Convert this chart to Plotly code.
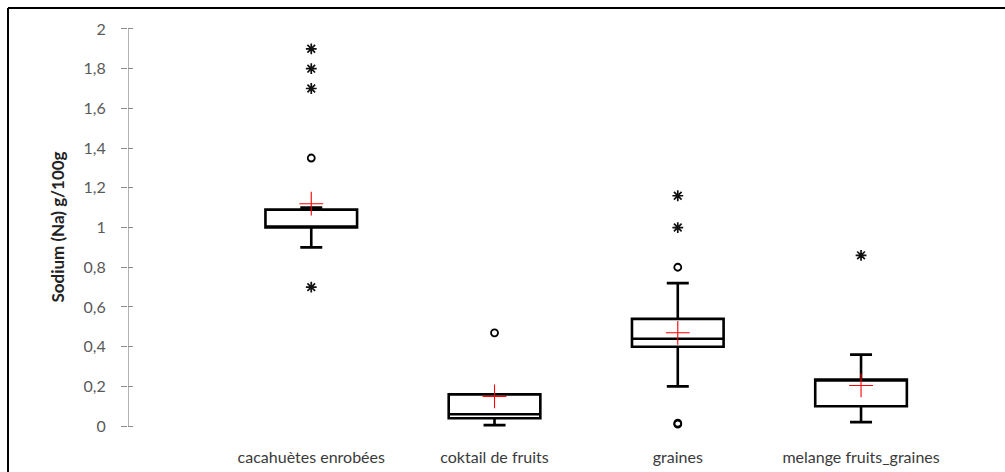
import plotly.graph_objects as go

categories = ["cacahuètes enrobées", "coktail de fruits", "graines", "melange fruits_graines"]
q1 = [1.00, 0.04, 0.40, 0.10]
median = [1.00, 0.06, 0.44, 0.235]
q3 = [1.09, 0.16, 0.54, 0.235]
lower_fence = [0.90, 0.005, 0.20, 0.02]
upper_fence = [1.10, 0.16, 0.72, 0.36]
means = [1.12, 0.15, 0.47, 0.205]

circle_cat = ["cacahuètes enrobées", "coktail de fruits", "graines", "graines", "graines"]
circle_val = [1.35, 0.47, 0.80, 0.01, 0.015]
star_cat = ["cacahuètes enrobées", "cacahuètes enrobées", "cacahuètes enrobées",
            "cacahuètes enrobées", "graines", "graines", "melange fruits_graines"]
star_val = [1.90, 1.80, 1.70, 0.70, 1.16, 1.00, 0.86]

y_ticks = [0, 0.2, 0.4, 0.6, 0.8, 1, 1.2, 1.4, 1.6, 1.8, 2]

W, H = 1005, 472
L, R, T, B = 128, 34, 19, 26
pw, ph = W - L - R, H - T - B

fig = go.Figure()
fig.add_trace(go.Box(
    x=categories, q1=q1, median=median, q3=q3,
    lowerfence=lower_fence, upperfence=upper_fence,
    width=0.5, whiskerwidth=0.24, boxpoints=False,
    fillcolor="white", line=dict(color="black", width=2.6),
    showlegend=False, hoverinfo="skip"))
fig.add_trace(go.Scatter(
    x=categories, y=means, mode="markers",
    marker=dict(symbol="cross-thin-open", size=17, color="red",
                line=dict(color="red", width=1.1)),
    showlegend=False))
fig.add_trace(go.Scatter(
    x=circle_cat, y=circle_val, mode="markers",
    marker=dict(symbol="circle-open", size=7, color="black",
                line=dict(color="black", width=1.8)),
    showlegend=False))
fig.add_trace(go.Scatter(
    x=star_cat, y=star_val, mode="markers",
    marker=dict(symbol="asterisk-open", size=9, color="#111111",
                line=dict(color="#111111", width=1.7)),
    showlegend=False))

# y axis line from 0 to 2 at the axis position
fig.add_shape(type="line", xref="x", yref="y", x0=-1, x1=-1, y0=y_ticks[0], y1=y_ticks[-1],
              line=dict(color="#8c8c8c", width=1.3))

# frame (top and left border)
bx = (8 - L) / pw
by = (H - B - 8) / ph
fig.add_shape(type="line", xref="paper", yref="paper", x0=bx, x1=bx, y0=-0.2, y1=by,
              line=dict(color="black", width=2))
fig.add_shape(type="line", xref="paper", yref="paper", x0=bx, x1=1.1, y0=by, y1=by,
              line=dict(color="black", width=2))

fig.add_annotation(text="<b>Sodium (Na) g/100g</b>", xref="paper", yref="y",
                   x=(58 - L) / pw, xanchor="center", y=1.0, yanchor="middle",
                   textangle=-90, showarrow=False,
                   font=dict(family="Lato", size=17, color="#222222"))

fig.update_layout(
    width=W, height=H,
    margin=dict(l=L, r=R, t=T, b=B, pad=0, autoexpand=False),
    paper_bgcolor="white", plot_bgcolor="white",
    separators=", ",
    font=dict(family="Lato", size=16, color="#444444"),
    xaxis=dict(type="category", categoryorder="array", categoryarray=categories,
               range=[-1, 3.6], showgrid=False, zeroline=False, showline=False,
               automargin=False,
               ticks="", tickfont=dict(size=16, color="#3a3a3a"), ticklabelstandoff=0),
    yaxis=dict(range=[-0.1, 2.05], tickvals=y_ticks, showgrid=False, zeroline=False,
               showline=False, ticks="outside", ticklen=6, tickwidth=1.3, automargin=False,
               tickcolor="#8c8c8c", ticklabelstandoff=12,
               tickfont=dict(size=16, color="#595959")),
    yaxis2=dict(range=[-0.1, 2.05], overlaying="y", side="left", tickvals=y_ticks,
                showticklabels=False, showgrid=False, zeroline=False, showline=False,
                automargin=False,
                ticks="inside", ticklen=5, tickwidth=1.3, tickcolor="#8c8c8c"),
)
fig.add_trace(go.Scatter(x=[None], y=[None], yaxis="y2", showlegend=False))

fig.write_html("out.html")
